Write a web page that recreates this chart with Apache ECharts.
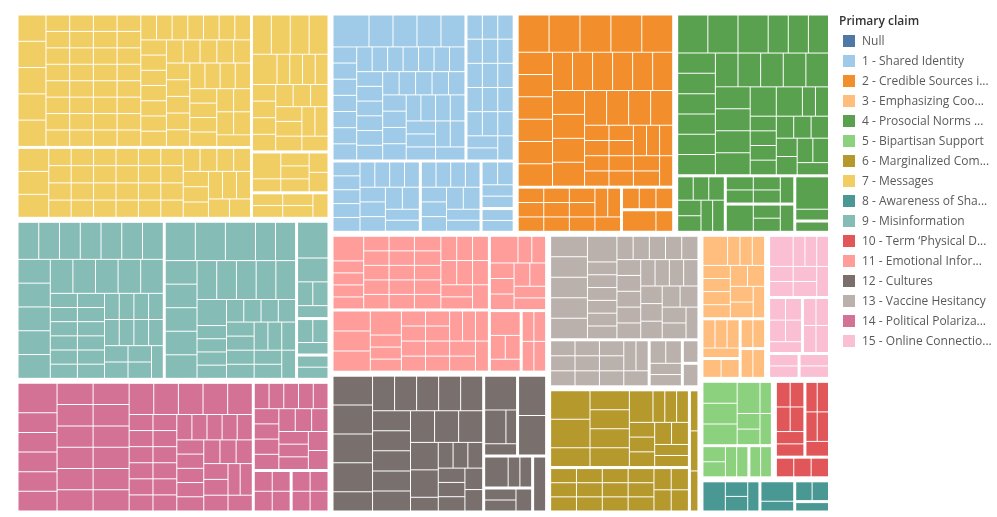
<!DOCTYPE html>
<html>
<head>
<meta charset="utf-8">
<script src="https://cdn.jsdelivr.net/npm/echarts@6/dist/echarts.min.js"></script>
<style>
html,body{margin:0;padding:0;background:#ffffff;}
#c{width:997px;height:517px;}
</style>
</head>
<body>
<div id="c"></div>
<script>
// Legend
const legendTitle = 'Primary claim';
const legendLabels = [
  'Null',
  '1 - Shared Identity',
  '2 - Credible Sources i...',
  '3 - Emphasizing Coo...',
  '4 - Prosocial Norms ...',
  '5 - Bipartisan Support',
  '6 - Marginalized Com...',
  '7 - Messages',
  '8 - Awareness of Sha...',
  '9 - Misinformation',
  '10 - Term \u2018Physical D...',
  '11 - Emotional Infor...',
  '12 - Cultures',
  '13 - Vaccine Hesitancy',
  '14 - Political Polariza...',
  '15 - Online Connectio...'
];
const claimColors = [
  '#4e79a7', '#a0cbe8', '#f28e2b', '#ffbe7d', '#59a14f', '#8cd17d', '#b6992d', '#f1ce63',
  '#499894', '#86bcb6', '#e15759', '#ff9d9a', '#79706e', '#bab0ac', '#d37295', '#fabfd2'
];

// Leaf values (estimated cell sizes), one inner array per sub-group, per claim
const messages = [
  [1.9,1.9,1.9,1.9,1.9,
   1.007,1.007,1.007,1.007,1.007,1.007,1.007,1.007,1.007,1.007,
   1.007,1.007,1.007,1.007,1.007,1.007,1.007,1.007,1.007,1.007,
   1.007,1.007,1.007,1.007,1.007,1.007,1.007,1.007,1.007,1.007,
   1.007,1.007,1.007,1.007,1.007,1.007,1.007,1.007,1.007,1.007,
   1.007,1.007,1.007,1.007,1.007,1.007,1.007,1.007,1.007,1.007,
   1.007,1.007,1.007,1.007,1.007,1.007,1.007,1.007,1.007,1.007,
   1.007,1.007,1.007,1.007,1.007,1.007,1.007,1.007,1.007],
  [1.85,1.85,1.85,
   1.012,1.012,1.012,1.012,1.012,1.012,1.012,1.012,1.012,1.012,
   1.012,1.012,1.012,1.012,1.012,1.012,1.012,1.012,1.012,1.012,
   1.012,1.012,1.012,1.012,1.012,1.012,1.012,1.012,1.012,1.012,
   1.012,1.012,1.012,1.012,1.012,1.012],
  [1.95,1.95,1.95,1.95,1.95,
   1.015,1.015,1.015,1.015,1.015,1.015,1.015,1.015,1.015,1.015,
   1.015,1.015,1.015,1.015,1.015,1.015,1.015],
  [2,1,1,1,1,1,1],
  [1,1,1,1,1]
];
const misinformation = [
  [2,2,2,2,2,2,2,2,2,2, 2,2,2,2,2,2,2,
   1,1,1,1,1,1,1,1,1,1, 1,1,1,1,1,1,1,1,1,1, 1,1,1,1,1],
  [3,3,3, 2,2,
   1.95,1.95,1.95,1.95,1.95,
   2,2,2,2,2, 2,
   1.014,1.014,1.014,1.014,1.014,1.014,1.014,1.014,1.014,
   1.014,1.014,1.014,1.014,1.014,1.014,1.014,1.014,1.014],
  [3,2,1,1,1],
  [1,1,1],
  [1,1]
];
const political = [
  [3,
   2,2,2,2,2,2,2,2,2,2, 2,2,2,2,2,2,2,2,2,2, 2,2,
   1,1,1,1,1,1,1,1,1,1, 1,1,1,1,1,1,1,1,1,1, 1,1,1,1,1,1,1,1,1,1, 1],
  [1,1,1,1,1,1,1,1,1,1, 1,1,1,1,1,1,1],
  [1,1,1,1],
  [1,1,1,1]
];
const sharedIdentity = [
  [3,2,2,2,2,
   1,1,1,1,1,1,1,1,1,1, 1,1,1,1,1,1,1,1,1,1, 1,1,1,1,1,1,1,1,1,1,
   1,1,1,1,1,1,1,1,1],
  [1,1,1,1,1,1,1,1,1,1, 1,1,1,1,1,1,1,1],
  [1,1,1,1,1,1,1,1,1,1, 1,1,1,1,1,1],
  [1,1,1,1,1,1,1,1,1,1, 1],
  [1,1,1,1],
  [1,1]
];
const credible = [
  [3,3,3,3,3,
   2,2,2,2,2,2,2,2,2,2, 2,2,2,2,2,2,2,2,2,2,
   0.97,0.97,0.97,0.97,0.97,0.97,0.97,0.97,
   1.04,1.04,1.04,1.04,1.04,1.04],
  [1,1,1,1,1,1,1,1,1,1, 1,1],
  [1,1,1],
  [2,1]
];
const prosocial = [
  [3,3,3,
   2,2,2,2,2,2,2,2,2,2, 2,2,2,2,2,2,2,2,2,2,
   1,1,1,1,1,1,1,1,1,1, 1,1,1,1],
  [1,1,1,1,1,1,1],
  [1,1,1,1,1],
  [2,1,1,1],
  [3,1],
  [1]
];
const emotional = [
  [2,
   0.98,0.98,0.98,0.98,
   0.98,0.98,0.98,0.98,0.98,0.98,0.98,0.98,0.98,0.98,
   1.02,1.02,1.02,1.02,1.02,1.02,1.02,1.02,1.02,1.02,1.02,1.02,1.02,1.02],
  [2,2,2,2, 1,1,1,
   0.97,0.97,0.97,0.97,0.97,0.97,0.97,0.97,
   1.04,1.04,1.04,1.04,1.04,1.04],
  [2,1,1,1,1,1,1,1,1,1],
  [2,1,1,1],
  [1,1,1,1]
];
const cultures = [
  [3,3,3,3,
   2,2,2,2,2,2,2,2,2,2, 2,2,2,2,2,2,
   1,1,1,1,1,1,1,1,1],
  [3,2,1,1],
  [3,3],
  [2,1,1],
  [1,1,1],
  [2]
];
const vaccine = [
  [2,2,2,2,2,2,
   1,1,1,1,1,1,1,1,1,1, 1,1,1,1,1,1,1,1,1,1, 1,1,1,1,1,1,1,1],
  [1,1,1,1,1,1,1,1,1,1, 1,1],
  [1,1,1,1],
  [1],
  [1]
];
const marginalized = [
  [3,3, 2,2,2,2,2,2,
   1,1,1,1,1,1,1,1,1,1],
  [1,1,1,1,1,1,1,1,1,1, 1,1,1,1,1,1],
  [1,1,1]
];
const emphasizing = [
  [2, 1,1,1,1,1,1,1,1,1,1, 1,1],
  [1,1,1,1],
  [1,1],
  [1,1],
  [1,1]
];
const online = [
  [2,1,1,1,1,1,1,1,1],
  [1,1,1,1,1],
  [1,1,1,1],
  [1,1],
  [1,1]
];
const bipartisan = [
  [2,2,2,2,1,1,1,1],
  [1,1,1,1],
  [1,1]
];
const term = [
  [1,1,1,1,1,1],
  [1,1,1,1,1],
  [1,1,1]
];
const awareness = [
  [2,1,1,1],
  [2,1],
  [1,1],
  [1]
];

// claim index (into legendLabels) and its sub-groups, largest first
const claims = [
  [7, messages], [9, misinformation], [14, political], [1, sharedIdentity],
  [2, credible], [4, prosocial], [11, emotional], [12, cultures],
  [13, vaccine], [6, marginalized], [3, emphasizing], [15, online],
  [5, bipartisan], [10, term], [8, awareness]
];

const treeData = claims.map(function (c) {
  const idx = c[0];
  return {
    name: legendLabels[idx],
    itemStyle: { color: claimColors[idx] },
    children: c[1].map(function (leaves, g) {
      return {
        name: legendLabels[idx] + ' #' + (g + 1),
        children: leaves.map(function (v) { return { value: v }; })
      };
    })
  };
});

const graphic = [{
  type: 'text', x: 839, y: 22,
  style: { text: legendTitle, font: '600 12px "Open Sans"', fill: '#333333', verticalAlign: 'middle' }
}];
legendLabels.forEach(function (t, i) {
  graphic.push({
    type: 'rect', shape: { x: 843, y: 35 + 20 * i, width: 12, height: 12 },
    style: { fill: claimColors[i] }
  });
  graphic.push({
    type: 'text', x: 862, y: 42 + 20 * i,
    style: { text: t, font: '12px "Open Sans"', fill: '#595959', verticalAlign: 'middle' }
  });
});

const chart = echarts.init(document.getElementById('c'), null, { renderer: 'canvas' });
chart.setOption({
  animation: false,
  backgroundColor: '#ffffff',
  graphic: graphic,
  series: [{
    type: 'treemap',
    left: 18.5, top: 15.5, width: 809.5, height: 495,
    squareRatio: 1.603,
    sort: false,
    roam: false,
    nodeClick: false,
    silent: true,
    breadcrumb: { show: false },
    label: { show: false },
    upperLabel: { show: false },
    itemStyle: { borderColor: '#ffffff', borderWidth: 0 },
    levels: [
      { itemStyle: { borderColor: '#ffffff', borderWidth: 0, gapWidth: 6 } },
      { itemStyle: { borderColor: '#ffffff', borderWidth: 0, gapWidth: 3 } },
      { itemStyle: { borderColor: '#ffffff', borderWidth: 0, gapWidth: 1 } },
      { itemStyle: { borderColor: '#ffffff', borderWidth: 0, gapWidth: 0 } }
    ],
    data: treeData
  }]
});
</script>
</body>
</html>
